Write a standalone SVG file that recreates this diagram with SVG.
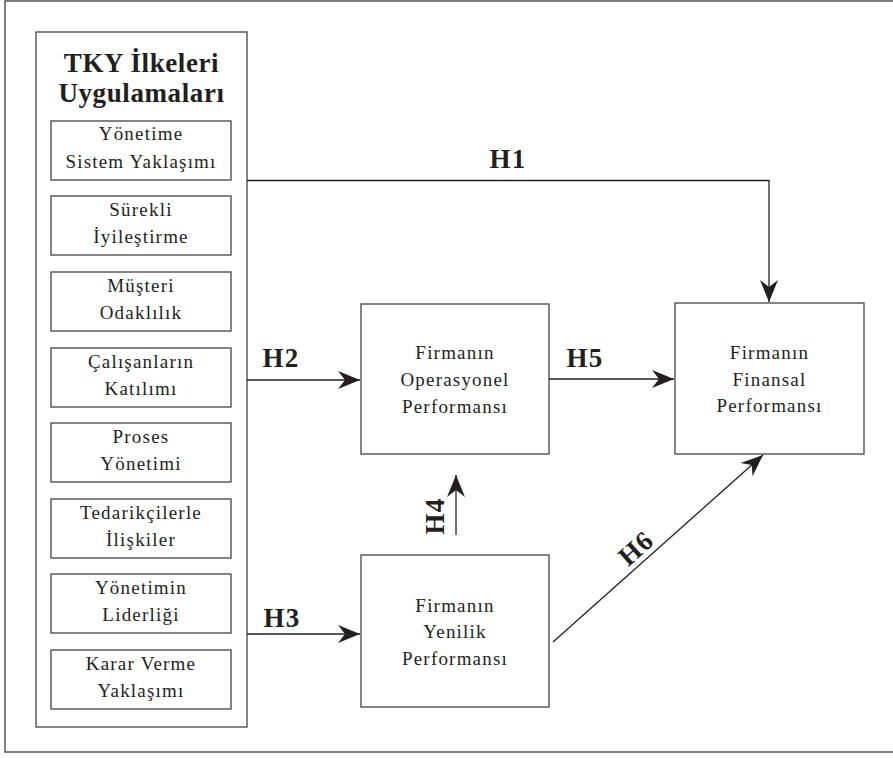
<svg xmlns="http://www.w3.org/2000/svg" width="893" height="758" viewBox="0 0 893 758">
<style>
.frame{fill:none;stroke:#555;stroke-width:1.5}
.box{fill:#fff;stroke:#444;stroke-width:1.3}
.t{font-family:"Liberation Serif",serif;font-size:19px;fill:#231f20;text-anchor:middle;letter-spacing:1.2px}
.h{font-family:"Liberation Serif",serif;font-size:27px;font-weight:bold;fill:#231f20;text-anchor:middle;letter-spacing:1.2px}
.c{fill:none;stroke:#231f20;stroke-width:1.3}
</style>
<defs>
<marker id="ah" markerUnits="userSpaceOnUse" markerWidth="24" markerHeight="20" viewBox="-23 -10 24 20" refX="0" refY="0" orient="auto">
<path d="M0,0 L-22,-9 L-15,0 L-22,9 Z" fill="#231f20"/>
</marker>
</defs>
<rect class="frame" x="5" y="1" width="900" height="751"/>
<g id="tky">
<rect class="box" x="36" y="32" width="211" height="695"/>
<text class="h" x="141.5" y="72" style="letter-spacing:0.6px">TKY İlkeleri</text>
<text class="h" x="141.5" y="102" style="letter-spacing:0.6px">Uygulamaları</text>
</g>
<g id="p1"><rect class="box" x="51" y="121" width="180" height="59"/><text class="t" x="141" y="140">Yönetime</text><text class="t" x="141" y="168">Sistem Yaklaşımı</text></g>
<g id="p2"><rect class="box" x="51" y="196" width="180" height="59"/><text class="t" x="141" y="215.5">Sürekli</text><text class="t" x="141" y="243">İyileştirme</text></g>
<g id="p3"><rect class="box" x="51" y="272" width="180" height="59"/><text class="t" x="141" y="291.5">Müşteri</text><text class="t" x="141" y="319">Odaklılık</text></g>
<g id="p4"><rect class="box" x="51" y="348" width="180" height="59"/><text class="t" x="141" y="367.5">Çalışanların</text><text class="t" x="141" y="395">Katılımı</text></g>
<g id="p5"><rect class="box" x="51" y="423" width="180" height="59"/><text class="t" x="141" y="442.5">Proses</text><text class="t" x="141" y="470">Yönetimi</text></g>
<g id="p6"><rect class="box" x="51" y="499" width="180" height="59"/><text class="t" x="141" y="518.5">Tedarikçilerle</text><text class="t" x="141" y="546">İlişkiler</text></g>
<g id="p7"><rect class="box" x="51" y="574" width="180" height="59"/><text class="t" x="141" y="593.5">Yönetimin</text><text class="t" x="141" y="621">Liderliği</text></g>
<g id="p8"><rect class="box" x="51" y="650" width="180" height="59"/><text class="t" x="141" y="669.5">Karar Verme</text><text class="t" x="141" y="697">Yaklaşımı</text></g>
<g id="operasyonel"><rect class="box" x="361" y="304" width="188" height="150"/><text class="t" x="455" y="359">Firmanın</text><text class="t" x="455" y="386">Operasyonel</text><text class="t" x="455" y="413">Performansı</text></g>
<g id="yenilik"><rect class="box" x="361" y="555" width="188" height="152"/><text class="t" x="455" y="612">Firmanın</text><text class="t" x="455" y="638">Yenilik</text><text class="t" x="455" y="665">Performansı</text></g>
<g id="finansal"><rect class="box" x="675" y="303" width="189" height="151"/><text class="t" x="769.5" y="359">Firmanın</text><text class="t" x="769.5" y="386">Finansal</text><text class="t" x="769.5" y="412">Performansı</text></g>
<g id="connectors">
<path class="c" d="M247,180.5 H769 V302" marker-end="url(#ah)"/>
<path class="c" d="M247,380 H360" marker-end="url(#ah)"/>
<path class="c" d="M247,634 H360" marker-end="url(#ah)"/>
<path class="c" d="M456,535 V475" marker-end="url(#ah)"/>
<path class="c" d="M549,379 H674" marker-end="url(#ah)"/>
<path class="c" d="M553,642 L763,455" marker-end="url(#ah)"/>
<text class="h" x="508" y="168">H1</text>
<text class="h" x="281" y="367">H2</text>
<text class="h" x="282" y="627">H3</text>
<text class="h" transform="translate(444,516) rotate(-90)" x="0" y="0">H4</text>
<text class="h" x="585" y="367">H5</text>
<text class="h" transform="translate(642,555) rotate(-41.7)" x="0" y="0">H6</text>
</g>
</svg>
